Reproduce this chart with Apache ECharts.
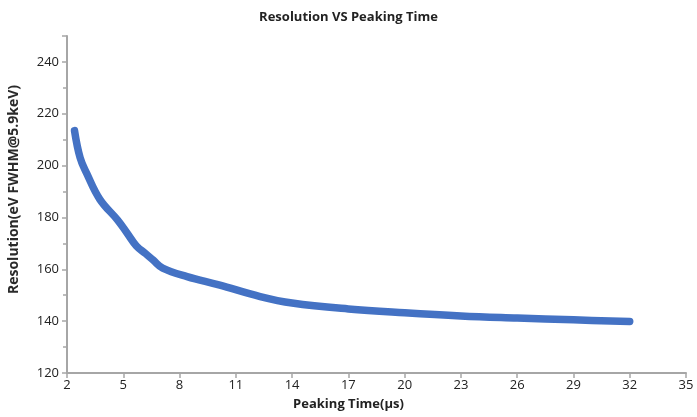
<!DOCTYPE html>
<html><head><meta charset="utf-8">
<script src="https://cdn.jsdelivr.net/npm/echarts@6/dist/echarts.min.js"></script>
<style>html,body{margin:0;padding:0;background:#fff}#c{width:697px;height:417px}</style>
</head><body><div id="c"></div>
<script>
const peakingTime = [2.4, 2.7, 3.05, 3.75, 4.7, 5.2, 5.7, 6.2, 6.6, 7.1, 8.4, 10.1, 12.3, 14, 17, 20, 23, 26, 29, 32];
const resolution = [213.5, 203, 197, 187, 179, 174, 169, 166, 163.5, 160.5, 157.2, 154, 149.5, 147, 144.7, 143.2, 142, 141.2, 140.5, 139.9];
const titleText = 'Resolution VS Peaking Time';
const xName = 'Peaking Time(μs)';
const yName = 'Resolution(eV FWHM@5.9keV)';

const font = '"Open Sans", "Noto Sans", sans-serif';
const chart = echarts.init(document.getElementById('c'));
chart.setOption({
  animation: false,
  title: { text: titleText, left: 'center', top: 6,
    textStyle: { fontFamily: font, fontSize: 13, fontWeight: 'bold', color: '#222' } },
  grid: { left: 67, right: 11, top: 36, bottom: 44, containLabel: false, outerBoundsMode: 'none' },
  xAxis: {
    type: 'value', min: 2, max: 35, interval: 3,
    name: xName, nameLocation: 'middle', nameGap: 25,
    nameTextStyle: { fontFamily: font, fontSize: 13, fontWeight: 'bold', color: '#222', padding: [0, 56, 0, 0] },
    axisLine: { show: true, onZero: false, lineStyle: { color: '#a6a6a6', width: 2 } },
    axisTick: { show: true, length: 5, lineStyle: { color: '#a6a6a6', width: 1.5 } },
    axisLabel: { fontFamily: font, fontSize: 13, color: '#222', margin: 6 },
    splitLine: { show: false }
  },
  yAxis: {
    type: 'value', min: 120, max: 250, interval: 20,
    name: yName, nameLocation: 'middle', nameGap: 46,
    nameTextStyle: { fontFamily: font, fontSize: 14, fontWeight: 'bold', color: '#2a2a2a', padding: [0, 0, 0, 30] },
    axisLine: { show: true, lineStyle: { color: '#a6a6a6', width: 2 } },
    axisTick: { show: true, length: 5, lineStyle: { color: '#a6a6a6', width: 1.5 } },
    minorTick: { show: true, splitNumber: 2, length: 4, lineStyle: { color: '#a6a6a6', width: 1.5 } },
    axisLabel: { fontFamily: font, fontSize: 13, color: '#222', margin: 8, showMaxLabel: false },
    splitLine: { show: false }
  },
  series: [{
    type: 'line', smooth: 0.4, symbol: 'none',
    data: peakingTime.map((x, i) => [x, resolution[i]]),
    lineStyle: { color: '#4472c4', width: 7.5, cap: 'round', join: 'round' }
  }]
});
</script>
</body></html>
